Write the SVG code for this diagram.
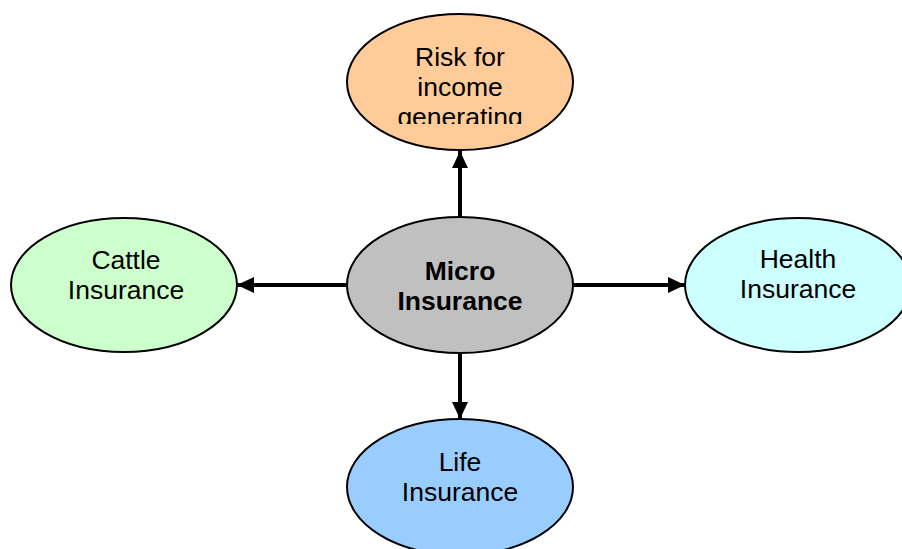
<svg xmlns="http://www.w3.org/2000/svg" width="902" height="549" viewBox="0 0 902 549">
<style>
.node{stroke:#000;stroke-width:2}
.t{font-family:"Liberation Sans",Arial,sans-serif;font-size:26.5px;fill:#000;text-anchor:middle}
.b{font-weight:bold}
.c{stroke:#000;stroke-width:4;fill:none}
</style>
<defs>
<marker id="ah" markerUnits="userSpaceOnUse" markerWidth="18" markerHeight="18" refX="17" refY="8" orient="auto">
<path d="M0,0 L17,8 L0,16 Z" fill="#000"/>
</marker>
<clipPath id="clipTop"><rect x="340" y="0" width="240" height="124"/></clipPath>
</defs>
<rect width="902" height="549" fill="#fff"/>
<g id="connectors">
<line class="c" x1="460" y1="217" x2="460" y2="151" marker-end="url(#ah)"/>
<line class="c" x1="347" y1="285" x2="237" y2="285" marker-end="url(#ah)"/>
<line class="c" x1="573" y1="285" x2="685" y2="285" marker-end="url(#ah)"/>
<line class="c" x1="460" y1="353" x2="460" y2="419" marker-end="url(#ah)"/>
</g>
<g id="top">
<ellipse class="node" cx="460" cy="82" rx="113" ry="68" fill="#FFCC99"/>
<g clip-path="url(#clipTop)">
<text class="t" x="460" y="66">Risk for</text>
<text class="t" x="460" y="96">income</text>
<text class="t" x="460" y="126">generating</text>
</g>
</g>
<g id="center">
<ellipse class="node" cx="460" cy="285" rx="113" ry="68" fill="#C0C0C0"/>
<text class="t b" x="460" y="280">Micro</text>
<text class="t b" x="460" y="310">Insurance</text>
</g>
<g id="left">
<ellipse class="node" cx="124" cy="285" rx="113" ry="67" fill="#CCFFCC"/>
<text class="t" x="126" y="269">Cattle</text>
<text class="t" x="126" y="299">Insurance</text>
</g>
<g id="right">
<ellipse class="node" cx="798" cy="285" rx="113" ry="67" fill="#CCFFFF"/>
<text class="t" x="798" y="268">Health</text>
<text class="t" x="798" y="298">Insurance</text>
</g>
<g id="bottom">
<ellipse class="node" cx="460" cy="487" rx="113" ry="68" fill="#99CCFF"/>
<text class="t" x="460" y="471">Life</text>
<text class="t" x="460" y="501">Insurance</text>
</g>
</svg>
